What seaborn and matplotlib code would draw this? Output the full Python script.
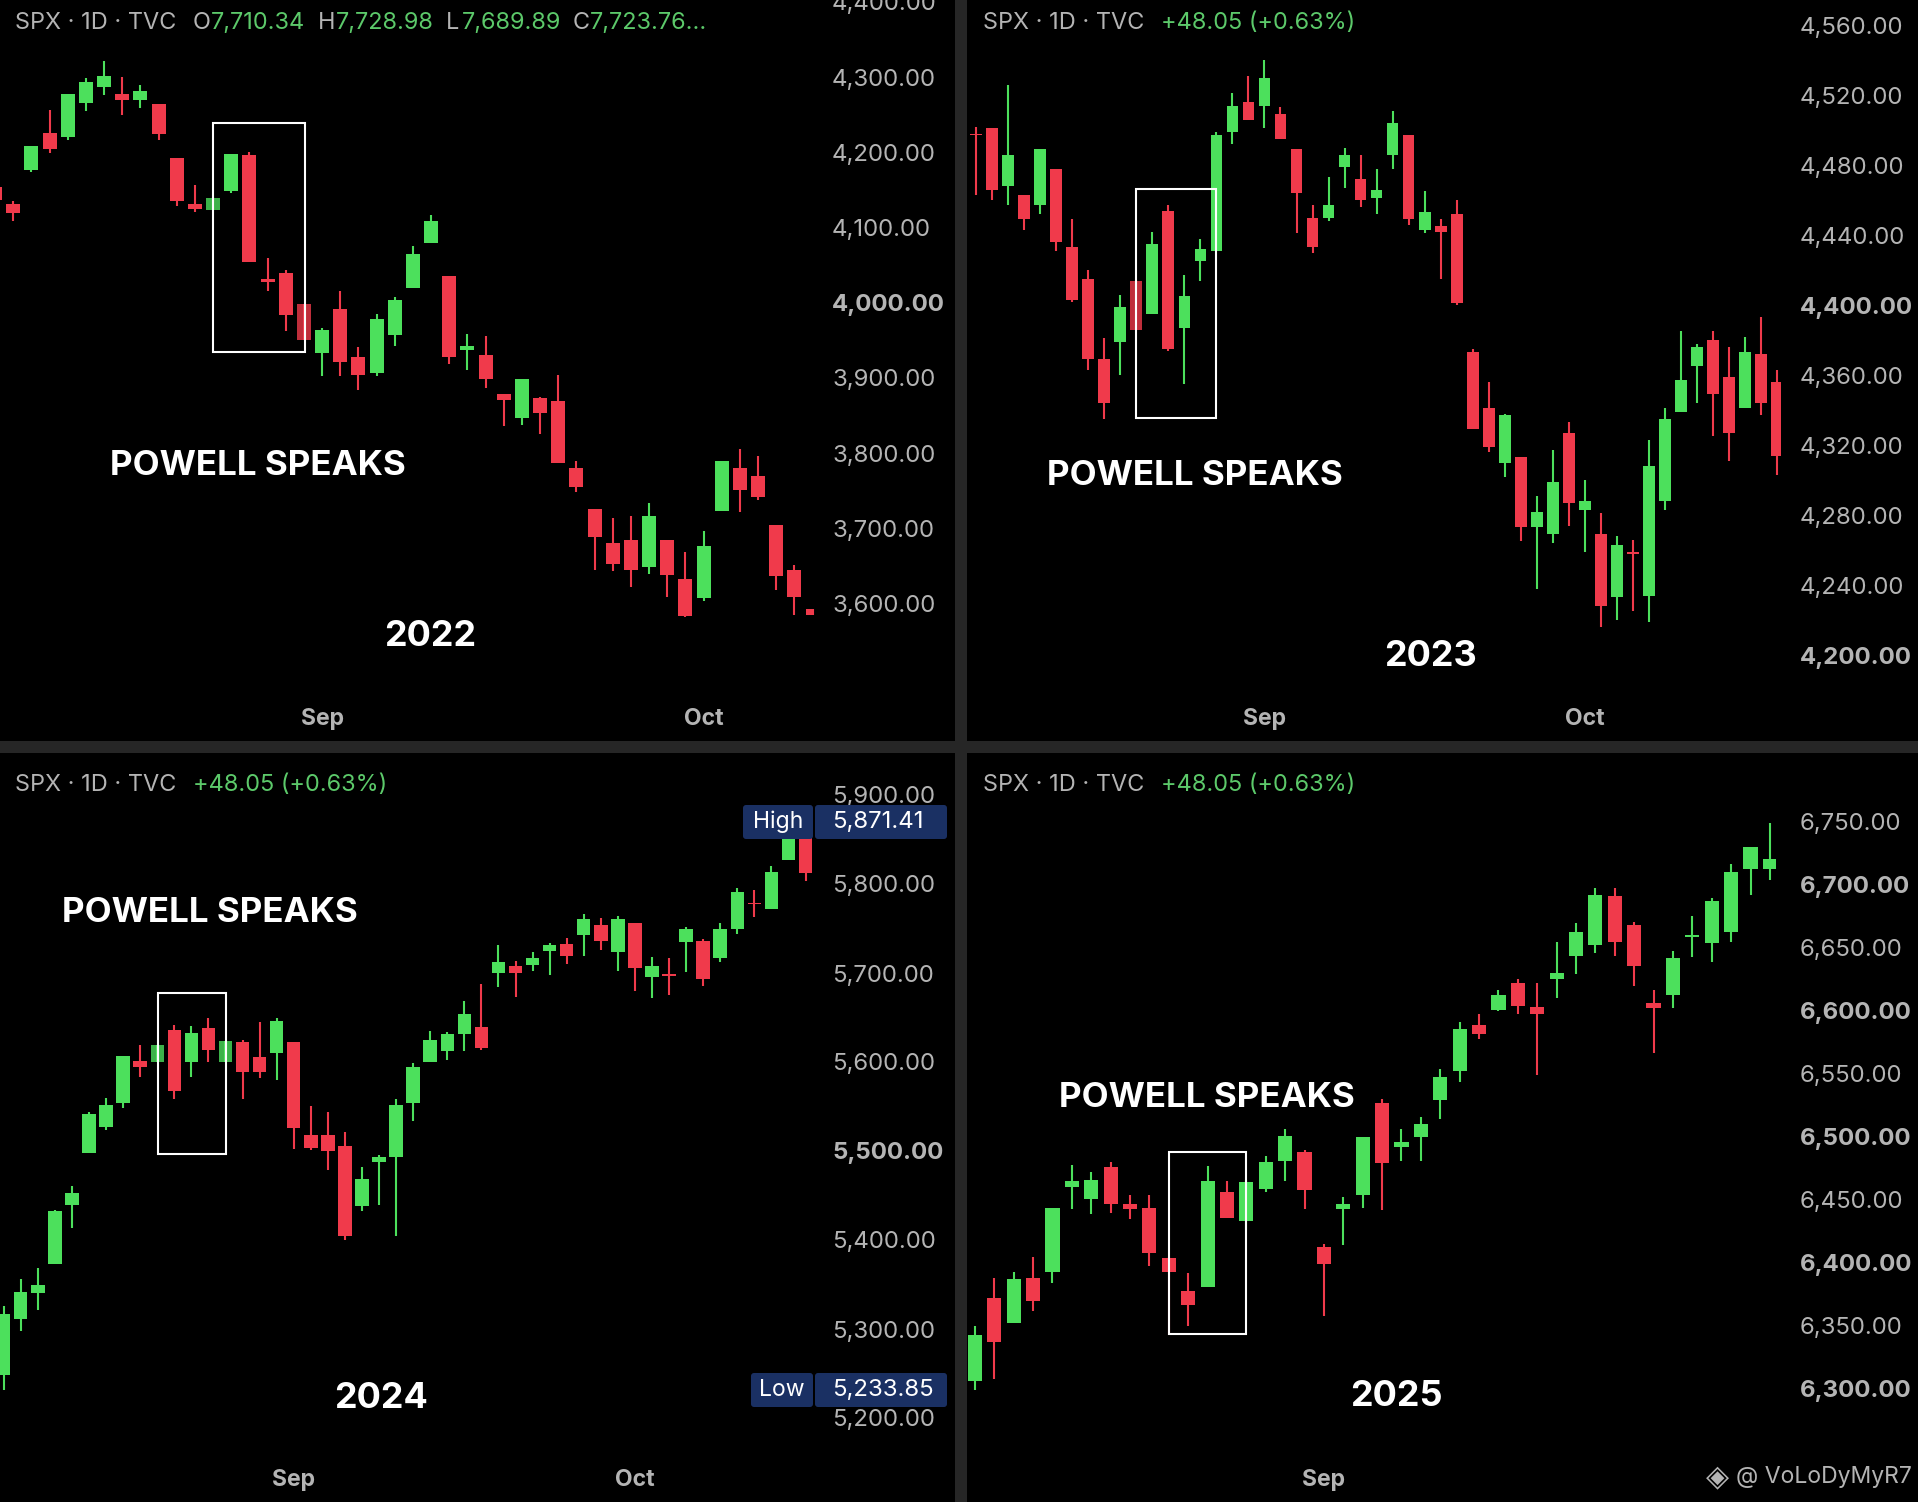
import numpy as np
import pandas as pd
import matplotlib
matplotlib.use("Agg")
import matplotlib.pyplot as plt
import seaborn as sns
from matplotlib.patches import Rectangle, FancyBboxPatch
from matplotlib.transforms import IdentityTransform, Bbox, TransformedBbox

# ---------- data ----------
dir_2022 = "rrgrgggrgrrrggrrrrgrrggggrgrrgrrrrrrgrrggrrrrr"[:46]
dir_2022 = ("rrgrgggrgr"   # 0-9
            "rrggrrrrgr"   # 10-19
            "rggggrgrrg"   # 20-29
            "rrrrrrgrrg"   # 30-39
            "grrrrr")      # 40-45
top_2022 = [4154,4131,4208,4225,4277,4294,4302,4278,4281,4264,4193,4131,4139,4198,4196,4032,4039,3998,3964,3992,3928,3978,4004,4065,4108,4035,3943,3930,3879,3898,3873,3869,3780,3725,3681,3684,3717,3685,3632,3676,3789,3780,3770,3705,3645,3593]
bot_2022 = [4136,4119,4177,4204,4221,4265,4287,4270,4269,4225,4135,4125,4123,4149,4054,4027,3983,3951,3933,3921,3904,3906,3957,4019,4080,3928,3937,3898,3870,3847,3853,3787,3755,3689,3652,3644,3648,3638,3583,3607,3723,3751,3741,3636,3609,3585]
high_2022 = [4154,4135,4209,4256,4278,4299,4322,4300,4290,4264,4193,4157,4140,4198,4201,4060,4043,3998,3967,4016,3941,3985,4008,4075,4117,4035,3959,3956,3879,3898,3875,3904,3789,3725,3714,3716,3734,3685,3669,3696,3790,3805,3796,3705,3651,3593]
low_2022 = [4136,4109,4174,4199,4217,4255,4276,4250,4259,4216,4128,4121,4123,4146,4054,4015,3963,3951,3902,3903,3884,3903,3942,4019,4080,3919,3910,3886,3836,3837,3826,3787,3748,3645,3643,3622,3639,3608,3582,3603,3723,3722,3737,3618,3585,3585]

dir_2023 = ("rrgrgrrrrg"   # 0-9
            "rgrggggrgr"   # 10-19
            "rrggrggrgr"   # 20-29
            "rrrgrggrgr"   # 30-39
            "grggggrrgrr") # 40-50
top_2023 = [4498,4501,4486,4463,4489,4478,4433,4415,4369,4399,4414,4435,4454,4405,4432,4497,4514,4516,4530,4509,4489,4450,4457,4486,4472,4466,4504,4497,4453,4445,4452,4373,4341,4337,4313,4282,4299,4327,4288,4269,4263,4259,4308,4335,4357,4376,4380,4359,4373,4372,4356]
bot_2023 = [4497,4466,4468,4449,4457,4436,4403,4369,4344,4379,4386,4395,4375,4387,4425,4431,4499,4506,4514,4495,4464,4433,4450,4479,4460,4461,4486,4449,4443,4442,4401,4329,4319,4310,4273,4273,4269,4287,4283,4228,4233,4258,4234,4288,4339,4365,4349,4327,4341,4344,4314]
high_2023 = [4502,4501,4526,4463,4489,4478,4449,4420,4381,4406,4414,4442,4457,4417,4438,4499,4521,4531,4540,4513,4489,4457,4473,4490,4486,4478,4511,4497,4465,4449,4460,4375,4356,4338,4313,4291,4317,4333,4300,4281,4268,4266,4323,4341,4385,4378,4385,4376,4382,4393,4363]
low_2023 = [4463,4460,4457,4443,4452,4431,4402,4363,4335,4360,4386,4395,4374,4355,4414,4431,4492,4506,4501,4495,4441,4430,4448,4467,4456,4452,4478,4446,4441,4415,4400,4329,4316,4302,4265,4238,4264,4274,4259,4216,4220,4225,4219,4283,4339,4344,4325,4311,4341,4337,4303]

dir_2024 = ("ggggggggrg"   # 0-9
            "rgrgrrgrrr"   # 10-19
            "rgggggggr"    # 20-28
            "grggrgrgrg"   # 29-38
            "rgrggrggr")   # 39-47
top_2024 = [5317,5342,5349,5433,5453,5542,5552,5607,5601,5619,5636,5633,5638,5624,5622,5606,5646,5622,5518,5518,5506,5469,5493,5552,5594,5625,5631,5654,5639,5712,5708,5717,5731,5733,5761,5754,5761,5756,5708,5699,5749,5736,5749,5791,5779,5813,5852,5858]
bot_2024 = [5248,5311,5340,5373,5439,5498,5527,5554,5594,5600,5567,5600,5613,5600,5589,5589,5610,5526,5503,5500,5404,5438,5488,5493,5554,5600,5612,5631,5616,5700,5700,5709,5725,5719,5743,5736,5724,5706,5696,5697,5735,5693,5717,5749,5778,5772,5827,5812]
high_2024 = [5326,5356,5369,5434,5461,5544,5560,5607,5619,5619,5642,5640,5649,5624,5625,5645,5649,5622,5551,5544,5521,5482,5496,5558,5599,5635,5634,5669,5688,5731,5713,5724,5734,5739,5766,5762,5764,5756,5718,5717,5752,5738,5756,5796,5793,5820,5871,5871]
low_2024 = [5231,5298,5321,5373,5413,5498,5524,5548,5583,5600,5558,5583,5600,5600,5558,5582,5580,5502,5501,5479,5400,5433,5439,5404,5534,5600,5602,5612,5613,5684,5673,5702,5698,5710,5719,5726,5702,5680,5672,5675,5701,5685,5712,5744,5763,5772,5827,5803]

dir_2025 = ("grgrgggrrr"   # 0-9
            "rrgrgggrrg"   # 10-19
            "grggggrgrr"   # 20-29
            "gggrrrgggggg")# 30-41
top_2025 = [6343,6372,6387,6388,6444,6465,6466,6476,6447,6444,6404,6378,6465,6456,6464,6480,6501,6488,6413,6447,6500,6527,6496,6510,6548,6586,6589,6613,6622,6603,6630,6663,6692,6691,6668,6606,6642,6660,6687,6710,6730,6721]
bot_2025 = [6306,6337,6352,6370,6393,6460,6451,6447,6443,6408,6393,6367,6381,6436,6433,6459,6481,6458,6399,6443,6454,6479,6492,6500,6529,6552,6582,6601,6604,6598,6625,6644,6652,6655,6636,6602,6613,6659,6654,6663,6713,6713]
high_2025 = [6350,6388,6393,6405,6444,6478,6472,6480,6454,6454,6405,6392,6477,6465,6466,6485,6506,6490,6415,6452,6500,6530,6506,6516,6554,6591,6598,6617,6625,6622,6655,6670,6698,6698,6671,6617,6648,6675,6690,6717,6730,6749]
low_2025 = [6299,6308,6352,6362,6384,6443,6439,6440,6435,6398,6343,6350,6381,6436,6426,6456,6465,6443,6358,6414,6444,6442,6481,6481,6514,6544,6578,6600,6598,6549,6610,6629,6646,6644,6620,6567,6602,6643,6639,6655,6692,6704]

ticks_2022 = [4400,4300,4200,4100,4000,3900,3800,3700,3600]
ticks_2023 = [4560,4520,4480,4440,4400,4360,4320,4280,4240,4200]
ticks_2024 = [5900,5800,5700,5600,5500,5400,5300,5200]
ticks_2025 = [6750,6700,6650,6600,6550,6500,6450,6400,6350,6300]
bold_2022 = [4000]
bold_2023 = [4400,4200]
bold_2024 = [5500]
bold_2025 = [6700,6600,6500,6400,6300]
faded_2022 = [12,17]
faded_2023 = [10]
faded_2024 = [9,13]
faded_2025 = []
months = ["Sep", "Oct"]
month_pos_2022 = [18, 39]
month_pos_2023 = [18, 38]
month_pos_2024 = [17, 37]
month_pos_2025 = [18]
header_plain = "SPX · 1D · TVC"
header_change = "+48.05 (+0.63%)"
ohlc_letters = ["O", "H", "L", "C"]
ohlc_values = ["7,710.34", "7,728.98", "7,689.89", "7,723.76..."]
title_text = "POWELL SPEAKS"
high_value, low_value = "5,871.41", "5,233.85"

# ---------- style ----------
W, H = 1918, 1502
RED, GREEN = "#f03a4b", "#4ce05c"
GRAY = "#b4b4b4"
NAVY = "#1a3063"
sns.set_theme(style="dark", rc={"axes.facecolor": "black", "figure.facecolor": "#262626",
                                "axes.grid": False})
FONT = ["Inter", "DejaVu Sans"]
plt.rcParams["font.family"] = FONT
px = 0.72

fig = plt.figure(figsize=(W / 100, H / 100), dpi=100)
fig.patch.set_facecolor("#262626")


def ftext(x, y, s, **kw):
    kw.setdefault("va", "center")
    return fig.text(x / W, 1 - y / H, s, **kw)


def panel(box, x0, dx, ybase, yref, ppu, clip, bw, dirs, top, bot, high, low, ticks, bold, faded, mpos, lx):
    L, T, R, B = box
    ax = fig.add_axes([L / W, 1 - B / H, (R - L) / W, (B - T) / H])
    idx = np.arange(len(dirs))
    rows = []
    for i, d, hi, lo in zip(idx, dirs, high, low):
        rows += [(i, hi, d), (i, lo, d)]
    wicks = pd.DataFrame(rows, columns=["i", "price", "dir"])
    sns.lineplot(data=wicks, x="i", y="price", units="i", estimator=None, hue="dir",
                 palette={"r": RED, "g": GREEN}, sort=False, legend=False, lw=1.5,
                 solid_capstyle="butt", ax=ax, zorder=2)
    t, b = np.array(top, float), np.array(bot, float)
    bars = ax.bar(idx, t - b, bottom=b, width=bw,
                  color=[RED if d == "r" else GREEN for d in dirs], zorder=3, lw=0)
    for i in faded:
        bars[i].set_alpha(0.8)
    ax.set_xlim((L - x0) / dx, (R - x0) / dx)
    ax.set_ylim(ybase - (B - yref) / ppu, ybase + (yref - T) / ppu)
    clipbox = TransformedBbox(Bbox([[0, 0], [(clip - L) / (R - L), 1]]), ax.transAxes)
    for p in bars:
        p.set_clip_box(clipbox)
    for s in ax.spines.values():
        s.set_visible(False)
    ax.set_xlabel("")
    ax.set_ylabel("")
    ax.yaxis.tick_right()
    ax.set_yticks(ticks)
    ax.set_yticklabels([f"{v:,.2f}" for v in ticks])
    ax.tick_params(axis="y", length=0, pad=-(R - lx) * px, labelsize=24 * px, labelcolor=GRAY)
    for lab, v in zip(ax.get_yticklabels(), ticks):
        if v in bold:
            lab.set_fontweight("bold")
    ax.set_xticks(mpos)
    ax.set_xticklabels(months[:len(mpos)], fontweight="bold")
    ax.tick_params(axis="x", length=0, pad=-33 * px, labelsize=23 * px, labelcolor=GRAY)
    return ax


panel((0, 0, 955, 741), -4.9, 18.165, 4000, 302.7, 0.752, 813, 0.77,
      dir_2022, top_2022, bot_2022, high_2022, low_2022, ticks_2022, bold_2022, faded_2022, month_pos_2022, 832)
panel((967, 0, 1918, 741), 976.1, 16.02, 4400, 305, 1.75, 1781, 0.73,
      dir_2023, top_2023, bot_2023, high_2023, low_2023, ticks_2023, bold_2023, faded_2023, month_pos_2023, 1800)
panel((0, 753, 955, 1502), 3.7, 17.06, 5500, 1151, 0.89, 813, 0.79,
      dir_2024, top_2024, bot_2024, high_2024, low_2024, ticks_2024, bold_2024, faded_2024, month_pos_2024, 832)
panel((967, 753, 1918, 1502), 974.9, 19.39, 6500, 1137, 1.26, 1776, 0.73,
      dir_2025, top_2025, bot_2025, high_2025, low_2025, ticks_2025, bold_2025, faded_2025, month_pos_2025, 1800)

# highlight boxes
for x1, y1, x2, y2 in [(213, 123, 305, 352), (1136, 189, 1216, 418), (158, 993, 226, 1154), (1169, 1152, 1246, 1334)]:
    fig.add_artist(Rectangle((x1, H - y2), x2 - x1, y2 - y1, fill=False, ec="white", lw=1.5,
                             transform=IdentityTransform(), zorder=6))

# annotations
for x, y in [(258, 466), (1195, 476), (210, 913), (1207, 1098)]:
    ftext(x, y, title_text, color="white", fontweight="bold", fontsize=35 * px, ha="center", zorder=7)
for x, y, s in [(430, 636, "2022"), (1430, 656, "2023"), (381, 1398, "2024"), (1396, 1396, "2025")]:
    ftext(x, y, s, color="white", fontweight="bold", fontsize=36 * px, ha="center", zorder=7)

# header lines
HS = 23.5 * px
for x, y in [(15, 23), (983, 23), (15, 785), (983, 785)]:
    ftext(x, y, header_plain, color=GRAY, fontsize=HS, zorder=7)
for x, y in [(1161, 23), (193, 785), (1161, 785)]:
    ftext(x, y, header_change, color="#5cc96a", fontsize=HS, zorder=7)
for xl, xv, a, v in zip([193, 318, 446, 573], [211, 336, 462, 590], ohlc_letters, ohlc_values):
    ftext(xl, 23, a, color=GRAY, fontsize=HS, zorder=7)
    ftext(xv, 23, v, color="#5cc96a", fontsize=HS, zorder=7)

# high / low tags
for x1, x2, y1, y2 in [(743, 813, 805, 839), (815, 947, 805, 839), (751, 813, 1373, 1407), (815, 947, 1373, 1407)]:
    fig.add_artist(FancyBboxPatch((x1, H - y2), x2 - x1, y2 - y1, boxstyle="round,pad=0,rounding_size=3",
                                  fc=NAVY, ec="none", transform=IdentityTransform(), zorder=6))
for x, y, a, v in [(778, 822, "High", high_value), (782, 1390, "Low", low_value)]:
    ftext(x, y, a, color="white", fontsize=23 * px, ha="center", zorder=7)
    ftext(832, y, v, color="white", fontsize=24 * px, zorder=7)

# watermark
ftext(1717, 1477, "◈", color=GRAY, fontsize=30 * px, ha="center", family=["DejaVu Sans"], zorder=7)
ftext(1736, 1477, "@ VoLoDyMyR7", color=GRAY, fontsize=23 * px, zorder=7)

fig.savefig("out.png", dpi=100, facecolor=fig.get_facecolor())
